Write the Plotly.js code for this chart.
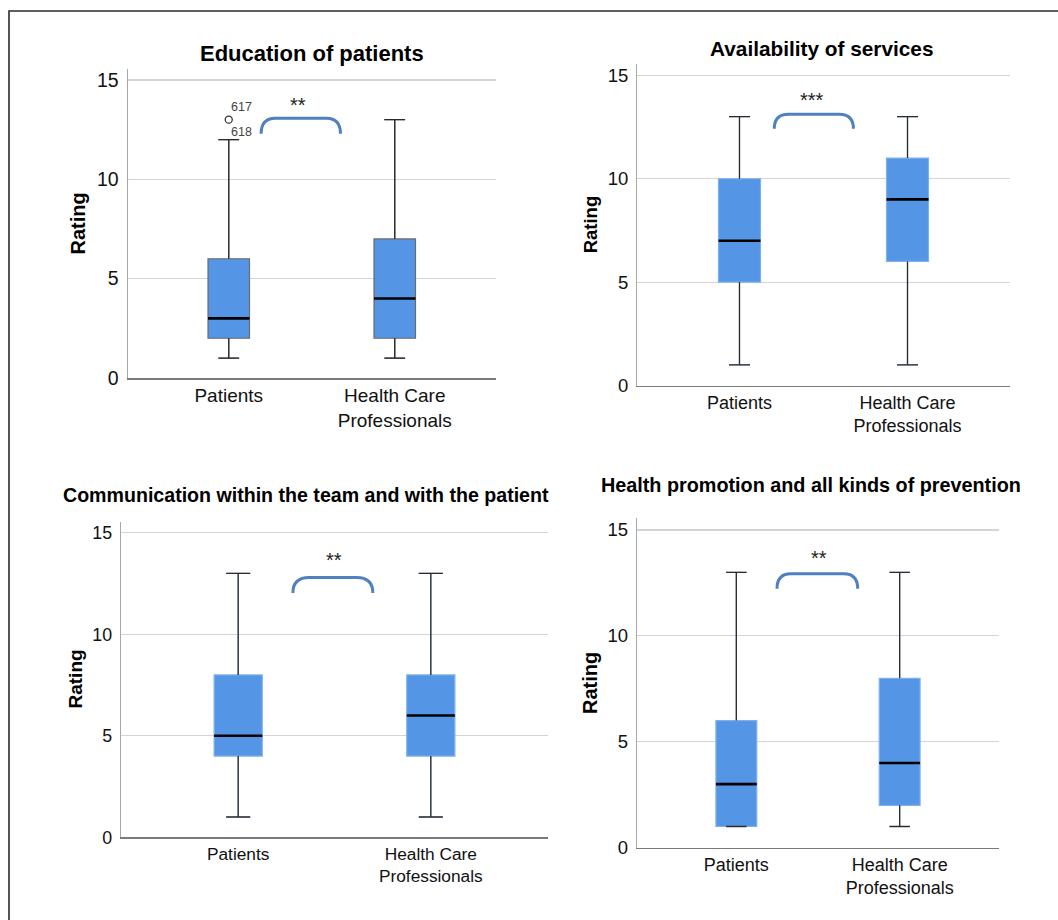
<!DOCTYPE html>
<html>
<head>
<meta charset="utf-8">
<script src="https://cdn.plot.ly/plotly-3.0.1.min.js"></script>
<style>
  html, body { margin: 0; padding: 0; background: #fff; }
  #chart { width: 1058px; height: 920px; }
</style>
</head>
<body>
<div id="chart"></div>
<script>
// ---------------- DATA ----------------
const groups = ['Patients', 'Health Care<br>Professionals'];
const panelTitles = [
  'Education of patients',
  'Availability of services',
  'Communication within the team and with the patient',
  'Health promotion and all kinds of prevention'
];
const yTitle = 'Rating';
const yTickVals = [0, 5, 10, 15];

// Education of patients
const eduLow = [1, 1];
const eduQ1 = [2, 2];
const eduMedian = [3, 4];
const eduQ3 = [6, 7];
const eduHigh = [12, 13];
const eduOutlierY = [13];
const eduOutlierGroup = [0];
const eduOutlierIds = ['617', '618'];

// Availability of services
const availLow = [1, 1];
const availQ1 = [5, 6];
const availMedian = [7, 9];
const availQ3 = [10, 11];
const availHigh = [13, 13];

// Communication within the team and with the patient
const commLow = [1, 1];
const commQ1 = [4, 4];
const commMedian = [5, 6];
const commQ3 = [8, 8];
const commHigh = [13, 13];

// Health promotion and all kinds of prevention
const promLow = [1, 1];
const promQ1 = [1, 2];
const promMedian = [3, 4];
const promQ3 = [6, 8];
const promHigh = [13, 13];

const significance = ['**', '***', '**', '**'];

// ---------------- LAYOUT CONFIG (positions / styles) ----------------
const W = 1058, H = 920;
const fx = p => p / W;
const fy = p => 1 - p / H;

const BOX_W = 0.25;
const CAP_HALF = BOX_W * 0.5 / 2;
const FILL = '#5595e5';
const FONT = '"Liberation Sans", Arial, sans-serif';

const panels = [
  { stats: [eduLow, eduQ1, eduMedian, eduQ3, eduHigh], dom: [127.5, 496, 69, 378],
    title: [312, 54, 22], tick: 19, ytitle: [78, 20], outline: '#6b6b6b',
    bracket: [0.195, 0.673, 13.07, 12.29], star: [0.417, 13.72] },
  { stats: [availLow, availQ1, availMedian, availQ3, availHigh], dom: [637, 1010, 64, 385.5],
    title: [822, 49, 20.8], tick: 18, ytitle: [590.6, 18.5], outline: '#7db0ef',
    bracket: [0.207, 0.678, 13.12, 12.42], star: [0.43, 13.8] },
  { stats: [commLow, commQ1, commMedian, commQ3, commHigh], dom: [120.7, 548.3, 521.7, 837.3],
    title: [305.5, 495, 19.6], tick: 17.3, ytitle: [75, 19], outline: '#7db0ef',
    bracket: [0.284, 0.699, 12.8, 12.04], star: [0.495, 13.64] },
  { stats: [promLow, promQ1, promMedian, promQ3, promHigh], dom: [636.7, 999.3, 518.3, 847.7],
    title: [810.8, 485, 19.8], tick: 18, ytitle: [590, 20], outline: '#7db0ef',
    bracket: [0.249, 0.743, 12.93, 12.22], star: [0.506, 13.66] }
];

const traces = [];
const annotations = [];
const shapes = [];
const layout = {
  width: W, height: H,
  margin: { l: 0, r: 0, t: 0, b: 0 },
  paper_bgcolor: '#fff', plot_bgcolor: '#fff',
  showlegend: false, hovermode: false,
  font: { family: FONT, color: '#000' },
  boxmode: 'overlay'
};

panels.forEach((p, k) => {
  const n = k === 0 ? '' : String(k + 1);
  const xa = 'x' + n, ya = 'y' + n;
  const [lo, q1, med, q3, hi] = p.stats;
  const xs = groups.map((g, i) => i);

  layout['xaxis' + n] = {
    domain: [fx(p.dom[0]), fx(p.dom[1])],
    anchor: ya, range: [-0.61, 1.61],
    tickmode: 'array', tickvals: xs, ticktext: groups,
    showgrid: false, zeroline: false, showline: true,
    linecolor: '#7a7a7a', linewidth: 1.5, ticks: '',
    tickfont: { family: FONT, size: p.tick, color: '#111' },
    fixedrange: true
  };
  layout['yaxis' + n] = {
    domain: [fy(p.dom[3]), fy(p.dom[2])],
    anchor: xa, range: [0, 15.55],
    tickmode: 'array', tickvals: yTickVals,
    showgrid: true, gridcolor: '#d4d4d4', gridwidth: 1.2,
    zeroline: false, showline: true, linecolor: '#a8a8a8', linewidth: 1,
    ticks: '', ticklabelstandoff: 4,
    tickfont: { family: FONT, size: p.tick + 0.5, color: '#111' },
    fixedrange: true
  };

  // boxes (true statistics)
  traces.push({
    type: 'box', xaxis: xa, yaxis: ya, x: xs,
    q1: q1, median: med, q3: q3, lowerfence: lo, upperfence: hi,
    width: BOX_W, whiskerwidth: 0.5,
    fillcolor: FILL, line: { color: p.outline, width: 1.2 },
    boxpoints: false, hoverinfo: 'skip'
  });

  // whiskers + caps drawn on top in dark gray
  const wx = [], wy = [];
  xs.forEach(i => {
    wx.push(i, i, null, i, i, null, i - CAP_HALF, i + CAP_HALF, null, i - CAP_HALF, i + CAP_HALF, null);
    wy.push(lo[i], q1[i], null, q3[i], hi[i], null, lo[i], lo[i], null, hi[i], hi[i], null);
  });
  traces.push({
    type: 'scatter', mode: 'lines', xaxis: xa, yaxis: ya,
    x: wx, y: wy, line: { color: '#2b2b2b', width: 1.3 },
    hoverinfo: 'skip', connectgaps: false
  });

  // medians in black
  const mx = [], my = [];
  xs.forEach(i => {
    mx.push(i - BOX_W / 2, i + BOX_W / 2, null);
    my.push(med[i], med[i], null);
  });
  traces.push({
    type: 'scatter', mode: 'lines', xaxis: xa, yaxis: ya,
    x: mx, y: my, line: { color: '#000', width: 2.6 },
    hoverinfo: 'skip', connectgaps: false
  });

  // panel title
  annotations.push({
    xref: 'paper', yref: 'paper', x: fx(p.title[0]), y: fy(p.title[1]),
    xanchor: 'center', yanchor: 'middle', showarrow: false,
    text: '<b>' + panelTitles[k] + '</b>',
    font: { family: FONT, size: p.title[2], color: '#000' }
  });
  // y title
  annotations.push({
    xref: 'paper', yref: 'paper', x: fx(p.ytitle[0]), y: fy((p.dom[2] + p.dom[3]) / 2),
    xanchor: 'center', yanchor: 'middle', showarrow: false, textangle: -90,
    text: '<b>' + yTitle + '</b>',
    font: { family: FONT, size: p.ytitle[1], color: '#000' }
  });
  // significance stars
  annotations.push({
    xref: xa, yref: ya, x: p.star[0], y: p.star[1],
    xanchor: 'center', yanchor: 'middle', showarrow: false,
    text: significance[k],
    font: { family: FONT, size: 20, color: '#222' }
  });
  // bracket
  const [xl, xr, yt, yb] = p.bracket;
  const dx = 0.085;
  shapes.push({
    type: 'path', xref: xa, yref: ya, layer: 'above',
    path: `M ${xl},${yb} Q ${xl},${yt} ${xl + dx},${yt} L ${xr - dx},${yt} Q ${xr},${yt} ${xr},${yb}`,
    line: { color: '#4f80bf', width: 3 }
  });
});

// outlier in panel 1
traces.push({
  type: 'scatter', mode: 'markers', xaxis: 'x', yaxis: 'y',
  x: eduOutlierGroup, y: eduOutlierY,
  marker: { symbol: 'circle-open', size: 7, color: '#333', line: { width: 1.3 } },
  hoverinfo: 'skip'
});
eduOutlierIds.forEach((id, j) => {
  annotations.push({
    xref: 'x', yref: 'y', x: eduOutlierGroup[0], y: eduOutlierY[0],
    xshift: 13, yshift: j === 0 ? 12.5 : -12.5,
    xanchor: 'center', yanchor: 'middle', showarrow: false,
    text: id, font: { family: FONT, size: 12.5, color: '#444' }
  });
});

// outer frame (top and left edges visible)
shapes.push({
  type: 'rect', xref: 'paper', yref: 'paper', layer: 'above',
  x0: fx(9), x1: 1.02, y0: -0.02, y1: fy(11),
  line: { color: '#2a2a2a', width: 1.6 }, fillcolor: 'rgba(0,0,0,0)'
});

layout.annotations = annotations;
layout.shapes = shapes;

Plotly.newPlot('chart', traces, layout, { displayModeBar: false, staticPlot: true });
</script>
</body>
</html>
